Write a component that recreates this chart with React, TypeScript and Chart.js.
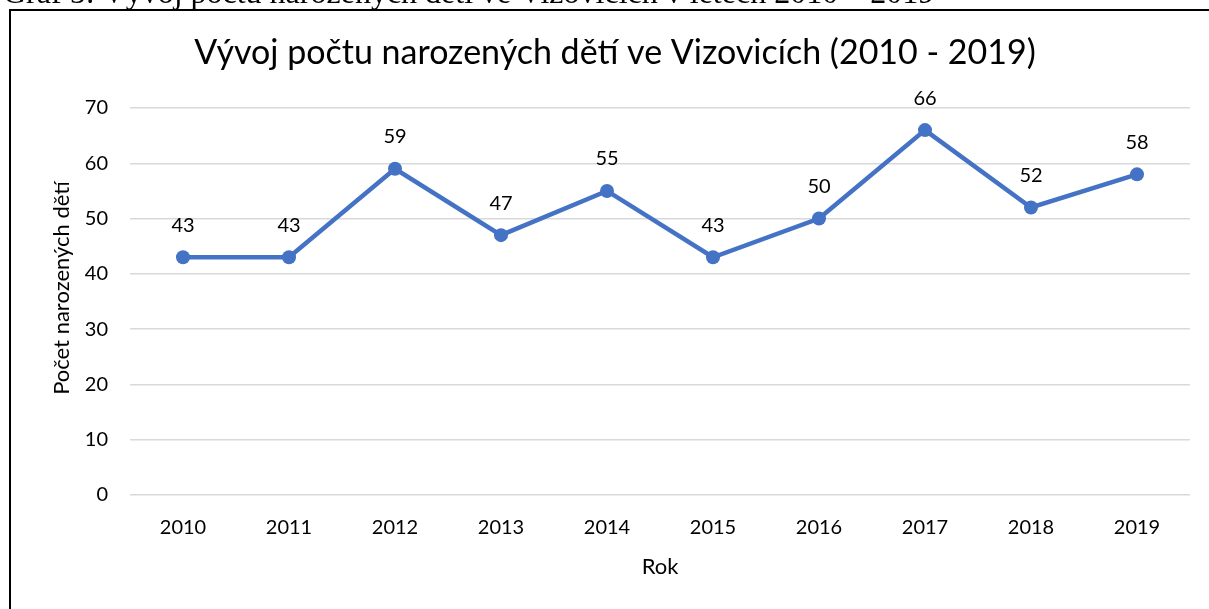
import React, { useEffect, useRef } from "react";
import { Chart, registerables } from "chart.js";

Chart.register(...registerables);

const years = ["2010", "2011", "2012", "2013", "2014", "2015", "2016", "2017", "2018", "2019"];
const births = [43, 43, 59, 47, 55, 43, 50, 66, 52, 58];
const yTicks = [0, 10, 20, 30, 40, 50, 60, 70];

const chartTitle = "Vývoj počtu narozených dětí ve Vizovicích (2010 - 2019)";
const captionText = "Graf 5: Vývoj počtu narozených dětí ve Vizovicích v letech 2010 – 2019";
const yAxisTitle = "Počet narozených dětí";
const xAxisTitle = "Rok";

const FONT = "Lato, 'Noto Sans', sans-serif";
const BLUE = "#4472C4";

export default function App() {
  const ref = useRef<HTMLCanvasElement>(null);
  useEffect(() => {
    const canvas = ref.current!;
    const decor = {
      id: "decor",
      beforeDraw(chart: any) {
        const ctx = chart.ctx;
        ctx.save();
        ctx.fillStyle = "#fff";
        ctx.fillRect(0, 0, chart.width, chart.height);
        ctx.strokeStyle = "#000";
        ctx.lineWidth = 2;
        ctx.beginPath();
        ctx.moveTo(10, chart.height + 10);
        ctx.lineTo(10, 10);
        ctx.lineTo(chart.width + 10, 10);
        ctx.stroke();
        ctx.fillStyle = "#000";
        ctx.font = "32px 'Liberation Serif', serif";
        ctx.textBaseline = "alphabetic";
        ctx.textAlign = "left";
        ctx.fillText(captionText, 3, 3);
        ctx.font = "34px " + FONT;
        ctx.textAlign = "center";
        ctx.textBaseline = "middle";
        ctx.fillText(chartTitle, 615, 53);
        ctx.font = "22px " + FONT;
        ctx.translate(62, 288);
        ctx.rotate(-Math.PI / 2);
        ctx.fillText(yAxisTitle, 0, 0);
        ctx.restore();
      },
      afterDatasetsDraw(chart: any) {
        const ctx = chart.ctx;
        const meta = chart.getDatasetMeta(0);
        ctx.save();
        ctx.font = "20px " + FONT;
        ctx.fillStyle = "#000";
        ctx.textAlign = "center";
        ctx.textBaseline = "middle";
        meta.data.forEach((pt: any, i: number) => {
          ctx.fillText(String(births[i]), pt.x, pt.y - 32);
        });
        ctx.restore();
      },
    };
    const chart = new Chart(canvas, {
      type: "line",
      data: {
        labels: years,
        datasets: [
          {
            data: births,
            borderColor: BLUE,
            backgroundColor: BLUE,
            borderWidth: 4.5,
            pointRadius: 7,
            pointBorderWidth: 0,
            pointBackgroundColor: BLUE,
            tension: 0,
          },
        ],
      },
      options: {
        animation: false,
        responsive: false,
        maintainAspectRatio: false,
        devicePixelRatio: 1,
        layout: { padding: { top: 108, left: 0, right: 19, bottom: 0 } },
        plugins: { legend: { display: false }, tooltip: { enabled: false }, title: { display: false } },
        scales: {
          x: {
            offset: true,
            grid: { display: false, drawTicks: false },
            border: { display: false },
            ticks: { padding: 21, color: "#000", font: { family: FONT, size: 20 }, maxRotation: 0 },
            title: { display: true, text: xAxisTitle, color: "#000", font: { family: FONT, size: 22 }, padding: { top: 0, bottom: 29 } },
            afterFit: (s: any) => { s.height = 114; },
          },
          y: {
            min: 0,
            max: 70,
            afterBuildTicks: (s: any) => { s.ticks = yTicks.map((v) => ({ value: v })); },
            grid: { color: "#d9d9d9", lineWidth: 1.5, drawTicks: false },
            border: { display: false },
            ticks: { padding: 22, color: "#000", font: { family: FONT, size: 20 } },
            title: { display: false },
            afterFit: (s: any) => { s.width = 130; },
          },
        },
      },
      plugins: [decor],
    });
    return () => chart.destroy();
  }, []);
  return (
    <div style={{ position: "fixed", left: 0, top: 0, width: 1209, height: 609, overflow: "hidden", background: "#fff" }}>
      <canvas ref={ref} width={1209} height={609} style={{ display: "block", width: 1209, height: 609 }} />
    </div>
  );
}
